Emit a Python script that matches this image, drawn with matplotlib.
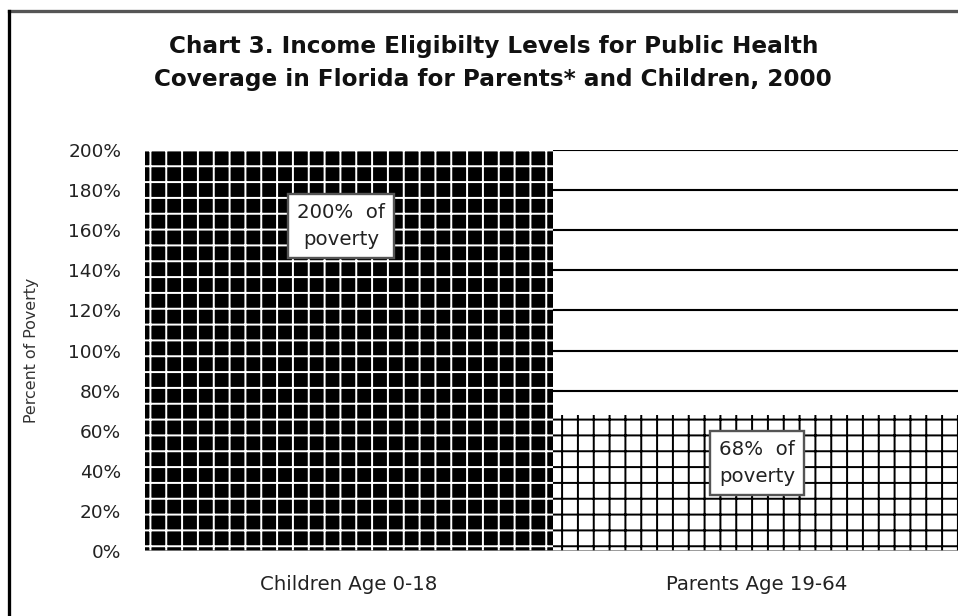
import matplotlib
matplotlib.use("Agg")
import matplotlib.pyplot as plt
from matplotlib.lines import Line2D

plt.rcParams['font.family'] = ['DejaVu Sans']

# data
groups = ["Children Age 0-18", "Parents Age 19-64"]
eligibility = [200, 68]
labels = ["200%  of\npoverty", "68%  of\npoverty"]
label_y = [162, 44]
yticks = list(range(0, 201, 20))

DPI = 95
fig = plt.figure(figsize=(958 / DPI, 616 / DPI), dpi=DPI)
ax = fig.add_axes([145 / 958, 65 / 616, 816 / 958, 401 / 616])

# horizontal gridlines behind bars
for t in yticks:
    ax.axhline(t, color='black', lw=1.6, zorder=0)

plt.rcParams['hatch.linewidth'] = 1.5
ax.bar(0, eligibility[0], width=1.0, color='black', edgecolor='white',
       hatch='+', linewidth=0, zorder=2)
ax.bar(1, eligibility[1], width=1.0, color='white', edgecolor='black',
       hatch='+', linewidth=0, zorder=2)

label_dx = [-0.02, 0.0]
for i, (txt, y) in enumerate(zip(labels, label_y)):
    ax.text(i + label_dx[i], y, txt, ha='center', va='center', fontsize=15,
            color='#222222', linespacing=1.55, zorder=3,
            bbox=dict(boxstyle='square,pad=0.45', fc='white', ec='#555555', lw=1.8))

ax.set_xlim(-0.5, 1.5)
ax.set_ylim(0, 200)
ax.set_yticks(yticks)
ax.set_yticklabels([f"{t}%" for t in yticks], fontsize=14, color='#222222')
ax.set_xticks([0, 1])
ax.set_xticklabels(groups, fontsize=15, color='#222222')
ax.tick_params(length=0)
ax.tick_params(axis='y', pad=18)
ax.tick_params(axis='x', pad=18)
for s in ax.spines.values():
    s.set_visible(False)
ax.axhline(0, color='#888888', lw=2, zorder=4)

ax.set_ylabel("Percent of Poverty", fontsize=12, color='#333333')
ax.yaxis.set_label_coords(-106 / 816, 0.5)

fig.text(0.515, 1 - 63 / 616, "Chart 3. Income Eligibilty Levels for Public Health\n"
         "Coverage in Florida for Parents* and Children, 2000",
         ha='center', va='center', fontsize=17.5, fontweight='bold',
         linespacing=1.55, color='#111111')

# outer frame (only top and left edges visible)
fig.add_artist(Line2D([9 / 958, 1], [1 - 11 / 616, 1 - 11 / 616],
                      color='#555555', lw=2.5, transform=fig.transFigure))
fig.add_artist(Line2D([9 / 958, 9 / 958], [0, 1 - 11 / 616],
                      color='black', lw=2.5, transform=fig.transFigure))

fig.savefig("out.png", dpi=DPI)
